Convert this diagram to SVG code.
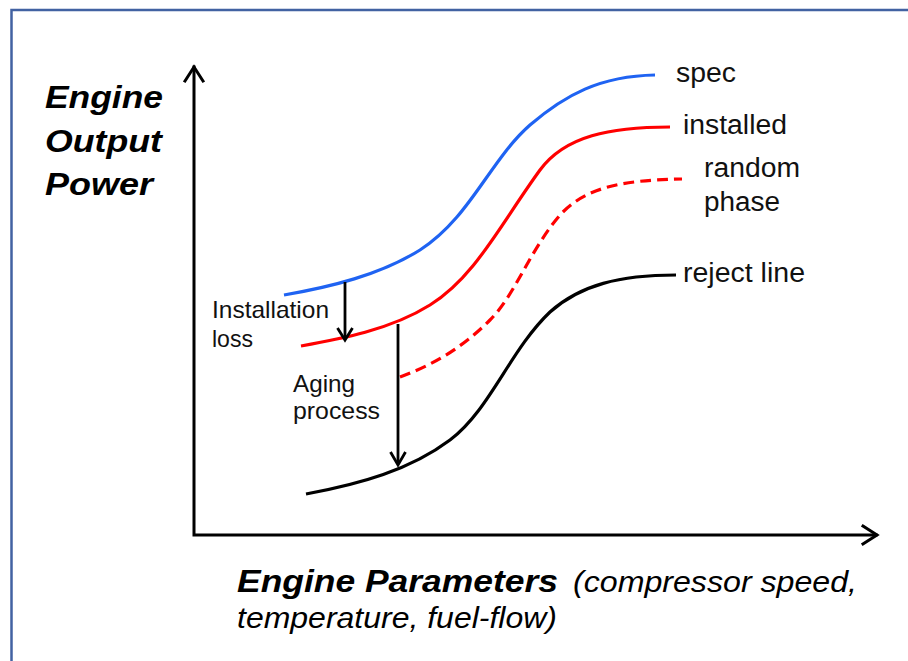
<svg xmlns="http://www.w3.org/2000/svg" width="908" height="661" viewBox="0 0 908 661">
<style>
.frame{fill:none;stroke:#4262a2;stroke-width:2.5}
.axis{fill:none;stroke:#000;stroke-width:3;stroke-linecap:square}
.crv{fill:none;stroke-width:3.2;stroke-linecap:butt}
.arr{fill:none;stroke:#000;stroke-width:2.8}
.lbl{font-family:"Liberation Sans",Arial,sans-serif;fill:#111}
.bi{font-family:"Liberation Sans",Arial,sans-serif;font-weight:bold;font-style:italic;fill:#000}
.it{font-family:"Liberation Sans",Arial,sans-serif;font-style:italic;fill:#000}
</style>
<rect width="908" height="661" fill="#fff"/>
<path class="frame" d="M11.5,670 V10 H920"/>
<g id="axes">
<path class="axis" d="M194,67 V535 H876"/>
<path class="axis" d="M185,81 L194,67 L203,81" stroke-linecap="round"/>
<path class="axis" d="M863,526 L877,535 L863,544" stroke-linecap="round"/>
</g>
<g id="curves">
<path id="spec-curve" class="crv" stroke="#1f63f2" d="M284,295 C330,287 380,275 420,250 C470,218 490,160 530,125 C565,95 600,76 655,75"/>
<path id="installed-curve" class="crv" stroke="#ff0000" d="M301,346 C340,339 390,330 430,305 C475,277 500,225 540,170 C565,136 610,127 670,127"/>
<path id="random-curve" class="crv" stroke="#ff0000" stroke-dasharray="11,6" d="M400,377 C430,366 460,350 490,320 C515,295 530,250 560,215 C585,188 620,180 682,179"/>
<path id="reject-curve" class="crv" stroke="#000" d="M306,494 C360,484 410,470 450,440 C490,410 510,350 550,312 C580,285 620,275 676,275"/>
</g>
<g id="connectors">
<path class="arr" d="M345,282 V339"/>
<path class="arr" d="M337.5,328 L345,340 L352.5,328"/>
<path class="arr" d="M398,324 V464"/>
<path class="arr" d="M390.5,452 L398,465 L405.5,452"/>
</g>
<g id="y-label">
<text class="bi" x="45" y="108" font-size="32" textLength="118" lengthAdjust="spacingAndGlyphs">Engine</text>
<text class="bi" x="45" y="152" font-size="32" textLength="117" lengthAdjust="spacingAndGlyphs">Output</text>
<text class="bi" x="45" y="195" font-size="32" textLength="108" lengthAdjust="spacingAndGlyphs">Power</text>
</g>
<g id="x-label">
<text class="bi" x="237" y="592" font-size="32" textLength="321" lengthAdjust="spacingAndGlyphs">Engine Parameters</text>
<text class="it" x="573" y="592" font-size="30" textLength="284" lengthAdjust="spacingAndGlyphs">(compressor speed,</text>
<text class="it" x="237" y="628" font-size="30" textLength="320" lengthAdjust="spacingAndGlyphs">temperature, fuel-flow)</text>
</g>
<g id="spec-label"><text class="lbl" x="676" y="82" font-size="27" textLength="60" lengthAdjust="spacingAndGlyphs">spec</text></g>
<g id="installed-label"><text class="lbl" x="683" y="134" font-size="27" textLength="104" lengthAdjust="spacingAndGlyphs">installed</text></g>
<g id="random-label">
<text class="lbl" x="704" y="177" font-size="27" textLength="96" lengthAdjust="spacingAndGlyphs">random</text>
<text class="lbl" x="704" y="211" font-size="27" textLength="76" lengthAdjust="spacingAndGlyphs">phase</text>
</g>
<g id="reject-label"><text class="lbl" x="683" y="282" font-size="27" textLength="122" lengthAdjust="spacingAndGlyphs">reject line</text></g>
<g id="installation-label">
<text class="lbl" x="212" y="318" font-size="24" textLength="117" lengthAdjust="spacingAndGlyphs">Installation</text>
<text class="lbl" x="212" y="347" font-size="24" textLength="41" lengthAdjust="spacingAndGlyphs">loss</text>
</g>
<g id="aging-label">
<text class="lbl" x="293" y="392" font-size="24" textLength="62" lengthAdjust="spacingAndGlyphs">Aging</text>
<text class="lbl" x="293" y="419" font-size="24" textLength="87" lengthAdjust="spacingAndGlyphs">process</text>
</g>
</svg>
